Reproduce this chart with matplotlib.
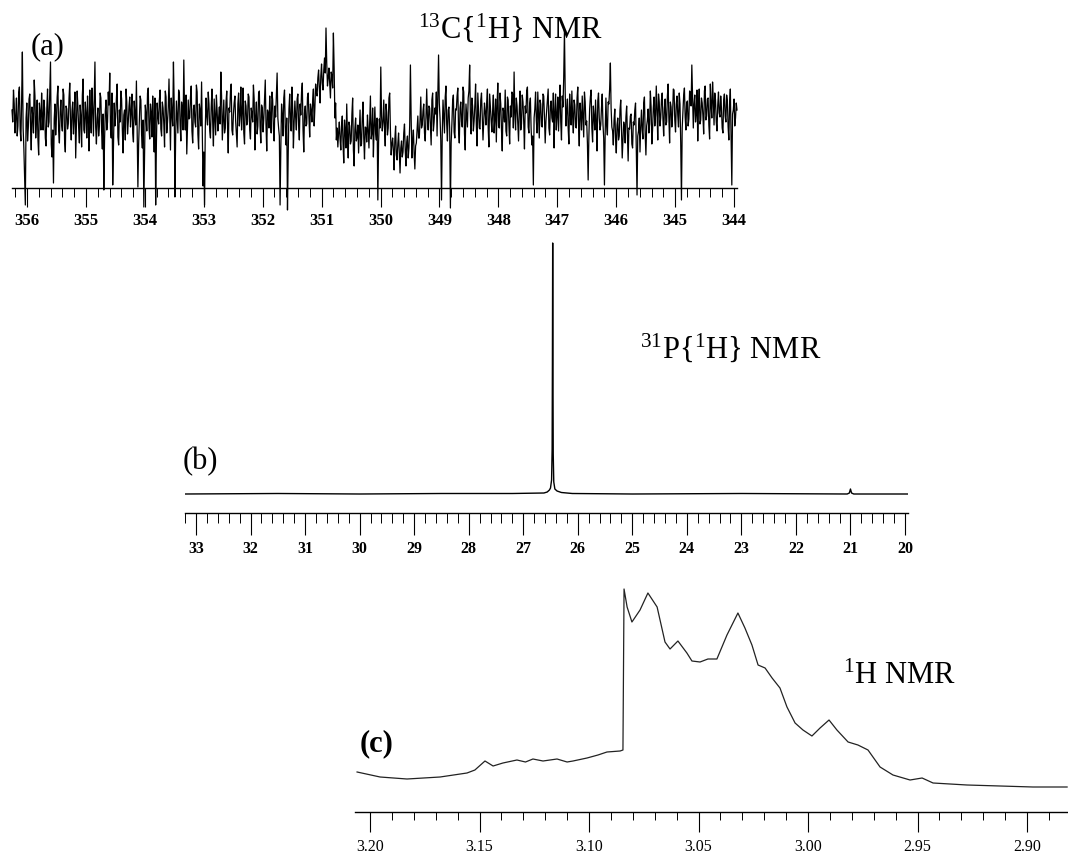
import numpy as np
import matplotlib
matplotlib.use("Agg")
import matplotlib.pyplot as plt
from matplotlib.ticker import MultipleLocator, FormatStrFormatter

plt.rcParams["font.family"] = ["Liberation Serif", "DejaVu Serif"]
plt.rcParams["mathtext.fontset"] = "custom"
plt.rcParams["mathtext.rm"] = "Liberation Serif"
plt.rcParams["mathtext.it"] = "Liberation Serif:italic"
plt.rcParams["mathtext.bf"] = "Liberation Serif:bold"

# ---------------- data ----------------
# (a) 13C{1H}: carbonyl region, noise-dominated trace (a.u.), sampled evenly from
# 356.26 to 343.95 ppm. Even-numbered points in c13_even, odd-numbered in c13_odd.
c13_ppm_range = (356.255, 343.949)
c13_even = [
    78, 98, 55, 90, 62, 101, 47, 136, 40, -17, 85, 60, 94, 38, 72, 108, 50, 88, 33, 76,
    95, 58, 80, 42, 99, 66, 126, 31, 5, 84, 70, 102, 45, 88, 57, 93, 36, 79, 64, 105,
    48, 86, 71, 30, 97, 60, 83, 41, 109, 55, 74, 92, 37, 68, 100, 52, 126, 44, 80, 62,
    90, 39, -2, 77, 58, 96, 115, 50, 3, 85, 71, 104, 43, 66, 89, 35, 78, 99, 54, 82,
    61, 94, 46, 73, 107, 1, 69, 88, 40, -19, 83, 57, 100, 49, 76, 92, 36, -17, 85, 64,
    98, 52, 80, 41, 91, 66, 109, 38, 74, 126, -9, 87, 55, 95, 47, 79, 128, 58, 34, 88,
    70, 102, 45, 83, 61, 96, 39, 77, 106, 2, -17, 90, 63, 84, 50, 99, 42, 72, 93, 57,
    81, 116, 48, 88, 60, 97, 35, 76, 104, 53, 85, 67, 41, 95, 73, 58, 100, 44, 82, 66,
    91, 49, 74, 103, 38, 86, 62, 97, 45, 80, 69, 108, 37, 75, 92, 55, 88, 47, 71, 115,
    60, -17, 84, 52, 98, 43, -22, 79, 66, 101, 40, 87, 58, 94, 48, 73, 105, 36, 82, 64,
    95, 51, 78, 88, 62, 104, 92, 118, 85, 124, 98, 130, 160, 102, 120, 90, 112, 155, 70, 48,
    41, 66, 38, 72, 25, 58, 84, 30, 62, 47, 90, 22, 70, 51, 35, 78, 44, 86, 29, 60,
    73, 40, 92, 55, 31, 81, 48, -12, 69, 121, 57, 88, 42, 76, 60, 95, 33, 50, 18, 62,
    28, 55, 15, 47, 36, 64, 22, 52, 40, 123, 30, 58, 19, 45, 72, 50, 91, 63, 84, 47,
    99, 58, 80, 43, 95, 66, 74, 52, 133, 70, -12, 88, 55, 102, 47, 81, -20, 64, 93, 50,
    78, 100, 45, 86, 61, 96, 38, 73, 90, 123, 54, 82, 67, 104, 42, 77, 59, 95, 48, 85,
    63, 99, 41, 80, 56, 93, 70, 46, 105, 60, 84, 37, 76, 98, 52, 88, 44, 71, 94, 116,
    58, 82, 47, 97, 64, 86, 39, 75, 101, 55, 90, 43, 3, 79, 68, 96, 50, 84, 61, 92,
    45, 78, 99, 53, 87, 66, 40, 94, 72, 57, 103, 48, 81, 158, 62, 89, 44, 76, 97, 55,
    83, 60, 101, 42, 74, 92, 51, 86, 67, 8, 79, 98, 46, 71, 88, 37, 95, 58, 80, 64,
    3, 90, 53, 84, 125, 61, 43, 79, 35, 70, 52, 88, 30, 66, 45, 82, 27, 59, 74, 40,
    63, 85, -7, 57, 36, 78, 49, 91, 33, 68, 55, 97, 44, 80, 62, 102, 48, 86, 70, 95,
    52, 89, 66, 104, 45, 81, 73, 98, 56, 92, 61, 84, -12, 77, 100, 58, 87, 69, 95, 123,
    60, 93, 74, 47, 99, 68, 85, 54, 102, 72, 90, 49, 83, 106, 63, 88, 57, 96, 71, 80,
    55, 94, 66, 87, 48, 99, 3, 78, 62, 85,
]
c13_odd = [
    66, 84, 71, 52, 95, 58, 88, 60, 12, 70, 47, 89, 63, 81, 55, 92, 67, 49, 85, 58,
    72, 88, 50, 79, 61, 94, 44, 58, 69, 53, 91, 57, 76, 64, 99, 48, 82, 59, 90, 66,
    77, 54, 96, 63, 81, 45, 72, 93, 58, 86, 50, 67, 98, 55, 79, 88, 61, 70, 52, 95,
    57, 74, 49, 88, 66, 83, 59, 95, 40, 62, 90, 51, 78, 97, 58, 73, 48, 86, 66, 91,
    76, 55, 87, 63, 58, 44, 92, 53, 68, 30, 74, 95, 60, 84, 51, 67, 90, 45, 72, 88,
    59, 86, 64, 97, 55, 80, 73, 90, 62, 84, 52, 70, 98, 63, 86, 58, 76, 93, 61, 69,
    91, 57, 79, 66, 103, 54, 84, 62, 50, 36, 60, 72, 96, 57, 81, 66, 89, 53, 77, 70,
    64, 92, 69, 55, 86, 63, 80, 97, 58, 74, 92, 54, 84, 62, 101, 77, 55, 87, 63, 94,
    58, 80, 66, 89, 72, 54, 95, 61, 83, 56, 90, 63, 78, 60, 71, 96, 59, 82, 93, 70,
    52, 40, 73, 90, 61, 70, 35, 94, 57, 80, 66, 71, 89, 63, 84, 96, 58, 75, 62, 91,
    70, 84, 66, 99, 80, 95, 110, 100, 112, 105, 118, 115, 125, 110, 104, 116, 100, 120, 85, 60,
    55, 49, 62, 45, 68, 40, 52, 66, 44, 74, 38, 59, 47, 63, 56, 42, 70, 50, 61, 46,
    58, 67, 49, 80, 62, 55, 70, 45, 60, 72, 66, 61, 84, 53, 90, 58, 44, 38, 49, 33,
    44, 36, 40, 31, 55, 38, 46, 30, 62, 70, 48, 35, 42, 58, 50, 68, 60, 77, 55, 71,
    70, 82, 62, 88, 57, 80, 96, 90, 85, 48, 55, 72, 91, 64, 78, 60, 45, 87, 56, 79,
    92, 58, 80, 66, 101, 54, 84, 61, 97, 72, 90, 57, 83, 63, 95, 60, 88, 71, 66, 76,
    86, 60, 94, 68, 77, 55, 89, 83, 62, 95, 58, 80, 66, 57, 91, 63, 82, 96, 60, 74,
    90, 64, 78, 58, 93, 66, 82, 97, 61, 84, 59, 52, 70, 96, 55, 73, 88, 62, 94, 71,
    67, 89, 60, 82, 70, 95, 76, 58, 91, 83, 66, 92, 110, 96, 78, 60, 94, 63, 72, 88,
    61, 90, 64, 85, 58, 70, 96, 63, 45, 52, 91, 60, 82, 58, 66, 87, 70, 63, 94, 50,
    55, 62, 86, 99, 80, 57, 68, 50, 63, 48, 78, 57, 49, 62, 71, 53, 60, 72, 44, 66,
    78, 40, 52, 70, 61, 58, 85, 54, 62, 79, 64, 81, 59, 91, 73, 77, 94, 62, 88, 69,
    80, 63, 92, 70, 86, 61, 99, 68, 84, 73, 95, 45, 60, 93, 71, 85, 62, 97, 82, 90,
    84, 66, 98, 81, 64, 90, 72, 97, 68, 89, 63, 104, 70, 88, 95, 66, 83, 75, 92, 60,
    88, 72, 93, 61, 84, 50, 74, 89, 70, 78,
]

# (b) 31P{1H}: single sharp resonance near 26.46 ppm plus a weak line at 21 ppm
p31_ppm = [33.20, 31.50, 30.00, 28.50, 27.20, 26.62, 26.56, 26.52, 26.50, 26.48, 26.47,
           26.465, 26.46, 26.455, 26.45, 26.44, 26.42, 26.38, 26.30, 26.10, 25.00,
           23.00, 21.06, 21.02, 21.00, 20.98, 20.94, 19.95]
p31_intensity = [0.0, 0.5, 0.0, 0.5, 0.5, 1.0, 2.0, 4.0, 6.0, 14.0, 45.0,
                 130.0, 251.0, 125.0, 40.0, 12.0, 5.0, 3.0, 1.5, 0.5, 0.0,
                 0.5, 0.0, 1.0, 5.0, 1.0, 0.0, 0.0]

# (c) 1H: methyl/methylene envelope between 3.21 and 2.88 ppm
h1_ppm = [3.2059, 3.1954, 3.1831, 3.1680, 3.1557, 3.1521, 3.1475, 3.1438, 3.1393,
          3.1329, 3.1290, 3.1256, 3.1210, 3.1146, 3.1100, 3.1073, 3.1009, 3.0959,
          3.0918, 3.0858, 3.0845, 3.0840, 3.0826, 3.0804, 3.0767, 3.0731, 3.0689,
          3.0653, 3.0630, 3.0594, 3.0553, 3.0530, 3.0493, 3.0457, 3.0416, 3.0370,
          3.0320, 3.0288, 3.0256, 3.0228, 3.0196, 3.0164, 3.0128, 3.0096, 3.0059,
          3.0023, 2.9982, 2.9945, 2.9904, 2.9868, 2.9817, 2.9772, 2.9726, 2.9671,
          2.9612, 2.9534, 2.9479, 2.9429, 2.9274, 2.9123, 2.8973, 2.8817]
h1_intensity = [15, 10, 8, 10, 14, 17, 26, 21, 24,
                27, 25, 28, 26, 28, 25, 26, 29, 32,
                35, 36, 37, 198, 180, 165, 177, 194, 180,
                145, 138, 146, 134, 126, 125, 128, 128, 152,
                174, 159, 142, 122, 119, 109, 99, 80, 64,
                57, 51, 59, 67, 57, 45, 42, 37, 20,
                12, 7, 9, 4, 2, 1, 0, 0]

c13_ticks = (344, 356)
p31_ticks = (20, 33)

# ---------------- layout helpers ----------------
W, H = 1068, 857
fig = plt.figure(figsize=(W / 100, H / 100), dpi=100)


def px_axes(left, top, right, bottom):
    return fig.add_axes([left / W, 1 - bottom / H, (right - left) / W, (bottom - top) / H])


def style_axis(ax, major, minor, fmt, maj_len, min_len, label_size, weight):
    for side in ("left", "right", "top"):
        ax.spines[side].set_visible(False)
    ax.spines["bottom"].set_linewidth(1.0)
    ax.set_yticks([])
    ax.xaxis.set_major_locator(MultipleLocator(major))
    ax.xaxis.set_minor_locator(MultipleLocator(minor))
    ax.xaxis.set_major_formatter(FormatStrFormatter(fmt))
    ax.tick_params(axis="x", which="major", direction="out", length=maj_len, width=0.8,
                   labelsize=label_size, pad=2)
    ax.tick_params(axis="x", which="minor", direction="out", length=min_len, width=0.7)
    for lab in ax.get_xticklabels():
        lab.set_fontweight(weight)
    ax.patch.set_alpha(0)


# ---------------- (a) 13C ----------------
axa = px_axes(12, 20, 737, 215)
c13_intensity = np.column_stack([c13_even, c13_odd]).ravel()
c13_ppm = np.linspace(c13_ppm_range[0], c13_ppm_range[1], len(c13_intensity))
axa.plot(c13_ppm, c13_intensity, color="black", lw=0.9, clip_on=False)
axa.set_xlim(c13_ppm_range)
axa.set_ylim(-27, 168)
axa.spines["bottom"].set_position(("data", 0))
style_axis(axa, 1, 0.2, "%d", 14, 6.5, 12, "bold")
axa.set_xticks(np.arange(c13_ticks[0], c13_ticks[1] + 1))
for lab in axa.get_xticklabels():
    lab.set_fontweight("bold")
axa.tick_params(axis="x", which="major", pad=4)

fig.text(48 / W, 1 - 47 / H, "(a)", fontsize=22, ha="center", va="center")
fig.text(510 / W, 1 - 28 / H, r"$^{13}$C{$^{1}$H} NMR", fontsize=22, ha="center", va="center")

# ---------------- (b) 31P ----------------
axb = px_axes(185, 240, 908, 513)
axb.plot(p31_ppm, p31_intensity, color="black", lw=1.0)
axb.set_xlim(33.2017, 19.945)
axb.set_ylim(-19, 254)
style_axis(axb, 1, 0.2, "%d", 16, 7, 11.5, "bold")
axb.set_xticks(np.arange(p31_ticks[0], p31_ticks[1] + 1))
for lab in axb.get_xticklabels():
    lab.set_fontweight("bold")
axb.tick_params(axis="x", which="major", pad=4)

fig.text(200 / W, 1 - 462 / H, "(b)", fontsize=22, ha="center", va="center")
fig.text(731 / W, 1 - 348 / H, r"$^{31}$P{$^{1}$H} NMR", fontsize=22, ha="center", va="center")

# ---------------- (c) 1H ----------------
axc = px_axes(355, 585, 1068, 812)
axc.plot(h1_ppm, h1_intensity, color="#222222", lw=0.9)
axc.set_xlim(3.20685, 2.88128)
axc.set_ylim(-25, 202)
style_axis(axc, 0.05, 0.01, "%.2f", 14.5, 6, 11.5, "normal")
axc.tick_params(axis="x", which="major", pad=5)

fig.text(377 / W, 1 - 744 / H, "(c)", fontsize=22, ha="center", va="center", fontweight="bold")
fig.text(899 / W, 1 - 676 / H, r"$^{1}$H NMR", fontsize=22, ha="center", va="center")

fig.savefig("out.png", dpi=100, facecolor="white")
